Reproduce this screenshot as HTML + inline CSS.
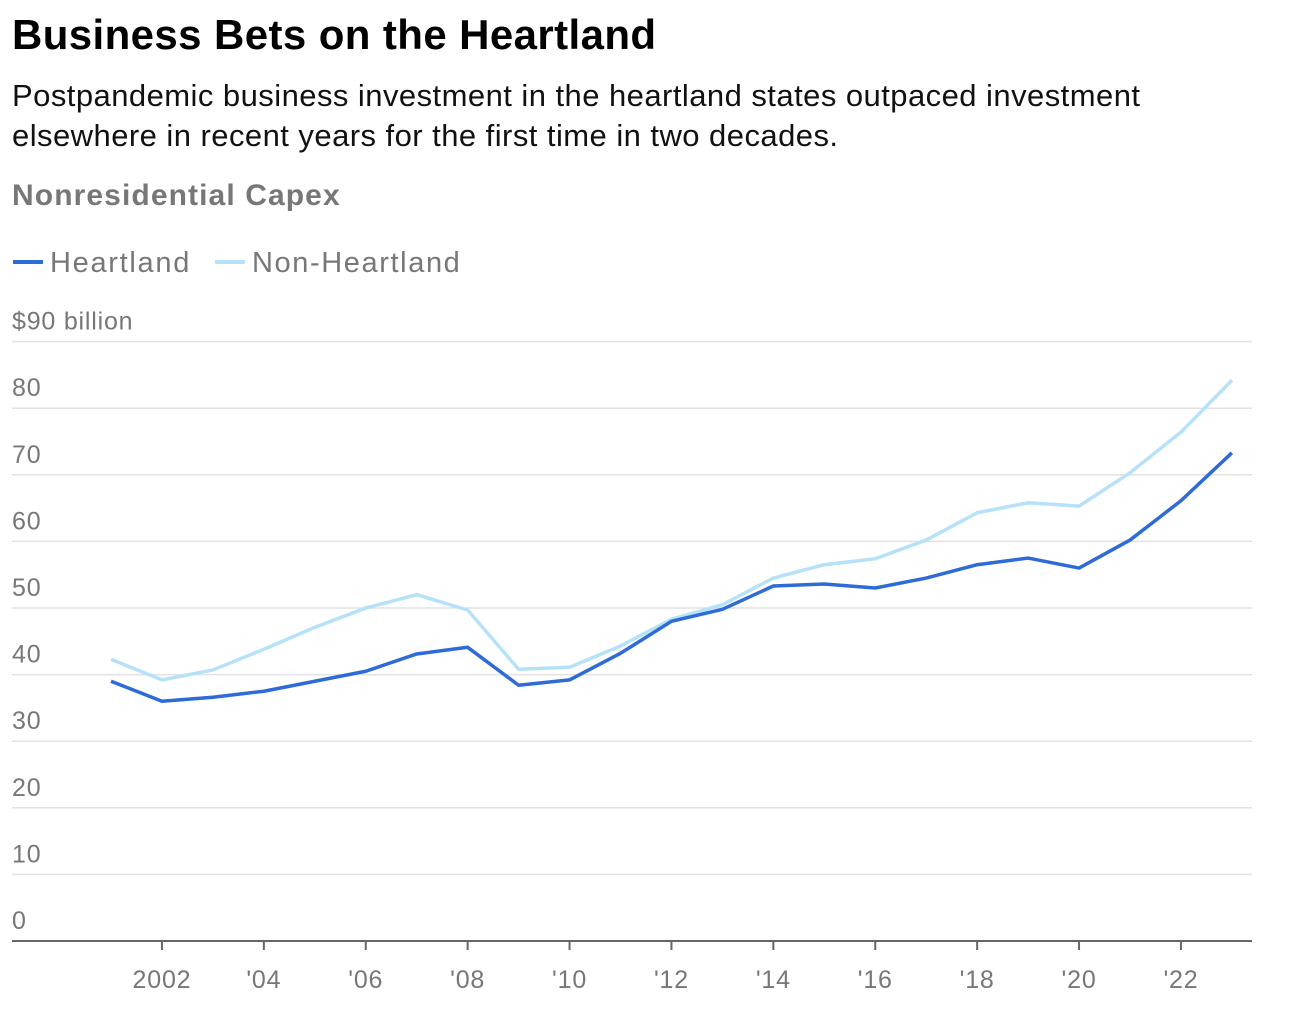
<!DOCTYPE html>
<html><head><meta charset="utf-8"><style>
body{margin:0;background:#fff;font-family:"Liberation Sans",sans-serif;}
#t{position:absolute;left:12px;top:11px;font-size:42px;font-weight:bold;color:#000;letter-spacing:0.4px}
#s{position:absolute;left:12px;top:76px;font-size:31px;line-height:40px;color:#111;width:1170px;letter-spacing:0.45px}
#h{position:absolute;left:12px;top:179px;font-size:30px;font-weight:bold;color:#777;letter-spacing:1.1px}
</style></head><body>
<div id="t">Business Bets on the Heartland</div>
<div id="s">Postpandemic business investment in the heartland states outpaced investment elsewhere in recent years for the first time in two decades.</div>
<div id="h">Nonresidential Capex</div>
<svg id="c" width="1316" height="1014" style="position:absolute;left:0;top:0">
<g>
<line x1="13" y1="262" x2="43" y2="262" stroke="#2e6bd6" stroke-width="4"/>
<text x="50" y="272" font-size="29" fill="#777" letter-spacing="1.7">Heartland</text>
<line x1="215" y1="262" x2="245" y2="262" stroke="#b5e2f8" stroke-width="4"/>
<text x="252" y="272" font-size="29" fill="#777" letter-spacing="1.6">Non-Heartland</text>
</g>
</svg>
<script>
const years=[2001,2002,2003,2004,2005,2006,2007,2008,2009,2010,2011,2012,2013,2014,2015,2016,2017,2018,2019,2020,2021,2022,2023];
const heartland=[39.0,36.0,36.6,37.5,39.0,40.5,43.1,44.1,38.4,39.2,43.2,48.0,49.8,53.3,53.6,53.0,54.5,56.5,57.5,56.0,60.2,66.1,73.3];
const nonHeartland=[42.3,39.2,40.7,43.8,47.1,50.0,52.0,49.7,40.8,41.1,44.3,48.3,50.5,54.5,56.5,57.4,60.2,64.3,65.8,65.3,70.3,76.4,84.2];
const yTicks=[0,10,20,30,40,50,60,70,80,90];
const yTickLabels=["0","10","20","30","40","50","60","70","80","$90 billion"];
const xTicks=[2002,2004,2006,2008,2010,2012,2014,2016,2018,2020,2022];
const xTickLabels=["2002","'04","'06","'08","'10","'12","'14","'16","'18","'20","'22"];
const NS="http://www.w3.org/2000/svg",svg=document.getElementById('c');
const x=v=>111+(v-2001)*50.95, y=v=>941-v*6.66;
function mk(t,a,p){const e=document.createElementNS(NS,t);for(const k in a)e.setAttribute(k,a[k]);(p||svg).appendChild(e);return e;}
yTicks.forEach((v,i)=>{
 if(v>0){const l=mk('line',{x1:12,x2:1252,y1:y(v),y2:y(v),stroke:'#e2e2e2','stroke-width':1.5});
 
 }
 const t=mk('text',{x:12,y:y(v)-12,'font-size':25,fill:'#777','letter-spacing':0.8});t.textContent=yTickLabels[i];
 
 
});
const ax=mk('line',{x1:12,x2:1252,y1:941,y2:941,stroke:'#666','stroke-width':2});


xTicks.forEach((v,i)=>{
 const tk=mk('line',{x1:x(v),x2:x(v),y1:941,y2:950,stroke:'#666','stroke-width':2});
 
 
 const t=mk('text',{x:x(v),y:988,'font-size':25,fill:'#777','text-anchor':'middle','letter-spacing':0.8});t.textContent=xTickLabels[i];
 
 
});
function line(vals,col,name){
 const p=mk('polyline',{points:vals.map((v,i)=>x(years[i])+','+y(v)).join(' '),fill:'none',stroke:col,'stroke-width':3.5,'stroke-linejoin':'round'});
 
 
}
line(nonHeartland,'#b5e2f8','non-heartland-line');
line(heartland,'#2e6bd6','heartland-line');
</script>
</body></html>
